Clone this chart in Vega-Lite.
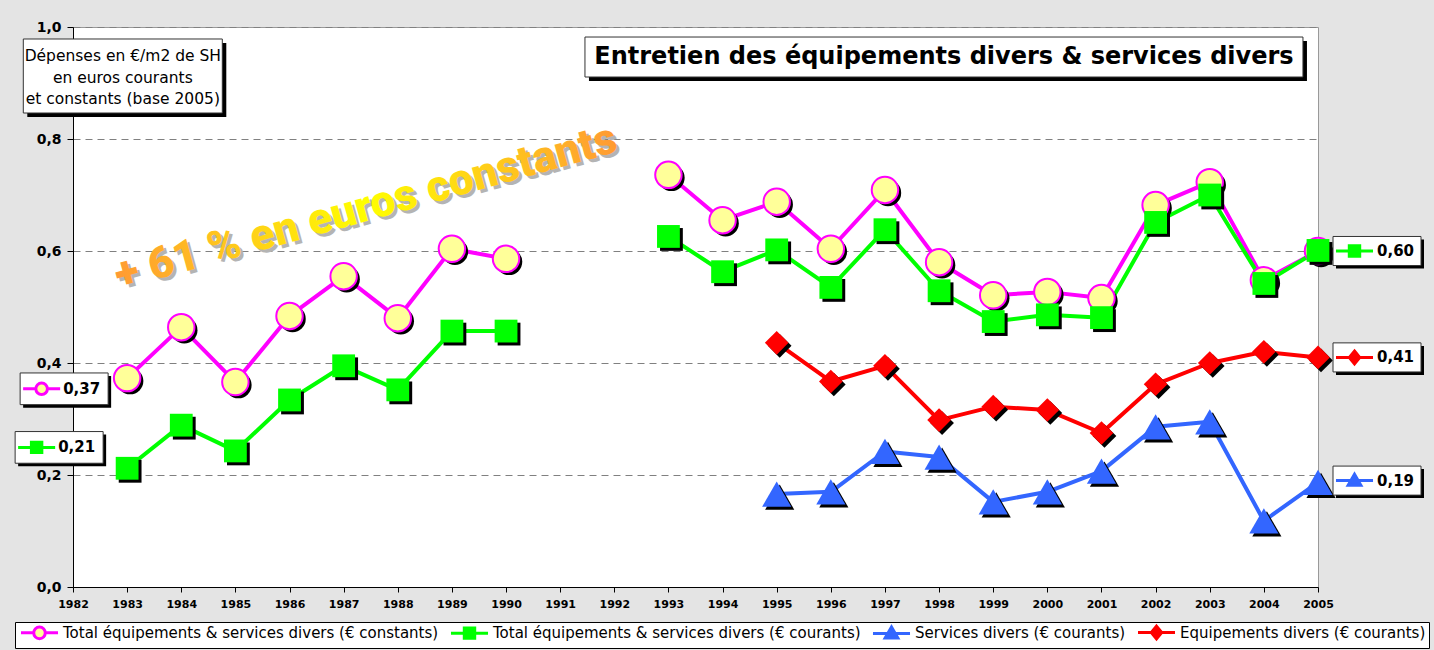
{
  "$schema": "https://vega.github.io/schema/vega-lite/v6.json",
  "width": 1245,
  "height": 560,
  "autosize": {"type": "none"},
  "padding": {"left": 73, "top": 27, "right": 116, "bottom": 63},
  "background": "#e4e4e4",
  "config": {
    "locale": {"number": {"decimal": ",", "thousands": " ", "grouping": [3], "currency": ["", " €"]}},
    "view": {"fill": "white", "stroke": "#999999", "strokeWidth": 1},
    "font": "DejaVu Sans",
    "legend": {
      "orient": "none",
      "direction": "horizontal",
      "columns": 4,
      "labelFontSize": 15,
      "labelFont": "DejaVu Sans",
      "labelColor": "black",
      "labelLimit": 0,
      "symbolSize": 134,
      "symbolStrokeWidth": 3,
      "symbolOpacity": 1,
      "symbolOffset": 14,
      "labelOffset": 16,
      "columnPadding": 5,
      "padding": 3,
      "strokeColor": "black",
      "fillColor": "white",
      "titleFontSize": 0,
      "titlePadding": 0
    }
  },
  "datasets": {
    "d": [
      {"serie": "Total équipements & services divers (€ constants)", "annee": 1983, "valeur": 0.373, "periode": 1},
      {"serie": "Total équipements & services divers (€ constants)", "annee": 1984, "valeur": 0.464, "periode": 1},
      {"serie": "Total équipements & services divers (€ constants)", "annee": 1985, "valeur": 0.366, "periode": 1},
      {"serie": "Total équipements & services divers (€ constants)", "annee": 1986, "valeur": 0.484, "periode": 1},
      {"serie": "Total équipements & services divers (€ constants)", "annee": 1987, "valeur": 0.555, "periode": 1},
      {"serie": "Total équipements & services divers (€ constants)", "annee": 1988, "valeur": 0.48, "periode": 1},
      {"serie": "Total équipements & services divers (€ constants)", "annee": 1989, "valeur": 0.604, "periode": 1},
      {"serie": "Total équipements & services divers (€ constants)", "annee": 1990, "valeur": 0.586, "periode": 1},
      {"serie": "Total équipements & services divers (€ constants)", "annee": 1993, "valeur": 0.736, "periode": 2},
      {"serie": "Total équipements & services divers (€ constants)", "annee": 1994, "valeur": 0.655, "periode": 2},
      {"serie": "Total équipements & services divers (€ constants)", "annee": 1995, "valeur": 0.688, "periode": 2},
      {"serie": "Total équipements & services divers (€ constants)", "annee": 1996, "valeur": 0.604, "periode": 2},
      {"serie": "Total équipements & services divers (€ constants)", "annee": 1997, "valeur": 0.709, "periode": 2},
      {"serie": "Total équipements & services divers (€ constants)", "annee": 1998, "valeur": 0.58, "periode": 2},
      {"serie": "Total équipements & services divers (€ constants)", "annee": 1999, "valeur": 0.521, "periode": 2},
      {"serie": "Total équipements & services divers (€ constants)", "annee": 2000, "valeur": 0.527, "periode": 2},
      {"serie": "Total équipements & services divers (€ constants)", "annee": 2001, "valeur": 0.516, "periode": 2},
      {"serie": "Total équipements & services divers (€ constants)", "annee": 2002, "valeur": 0.682, "periode": 2},
      {"serie": "Total équipements & services divers (€ constants)", "annee": 2003, "valeur": 0.723, "periode": 2},
      {"serie": "Total équipements & services divers (€ constants)", "annee": 2004, "valeur": 0.548, "periode": 2},
      {"serie": "Total équipements & services divers (€ constants)", "annee": 2005, "valeur": 0.6, "periode": 2},
      {"serie": "Total équipements & services divers (€ courants)", "annee": 1983, "valeur": 0.212, "periode": 1},
      {"serie": "Total équipements & services divers (€ courants)", "annee": 1984, "valeur": 0.289, "periode": 1},
      {"serie": "Total équipements & services divers (€ courants)", "annee": 1985, "valeur": 0.243, "periode": 1},
      {"serie": "Total équipements & services divers (€ courants)", "annee": 1986, "valeur": 0.334, "periode": 1},
      {"serie": "Total équipements & services divers (€ courants)", "annee": 1987, "valeur": 0.395, "periode": 1},
      {"serie": "Total équipements & services divers (€ courants)", "annee": 1988, "valeur": 0.352, "periode": 1},
      {"serie": "Total équipements & services divers (€ courants)", "annee": 1989, "valeur": 0.457, "periode": 1},
      {"serie": "Total équipements & services divers (€ courants)", "annee": 1990, "valeur": 0.457, "periode": 1},
      {"serie": "Total équipements & services divers (€ courants)", "annee": 1993, "valeur": 0.626, "periode": 2},
      {"serie": "Total équipements & services divers (€ courants)", "annee": 1994, "valeur": 0.563, "periode": 2},
      {"serie": "Total équipements & services divers (€ courants)", "annee": 1995, "valeur": 0.602, "periode": 2},
      {"serie": "Total équipements & services divers (€ courants)", "annee": 1996, "valeur": 0.535, "periode": 2},
      {"serie": "Total équipements & services divers (€ courants)", "annee": 1997, "valeur": 0.638, "periode": 2},
      {"serie": "Total équipements & services divers (€ courants)", "annee": 1998, "valeur": 0.529, "periode": 2},
      {"serie": "Total équipements & services divers (€ courants)", "annee": 1999, "valeur": 0.474, "periode": 2},
      {"serie": "Total équipements & services divers (€ courants)", "annee": 2000, "valeur": 0.486, "periode": 2},
      {"serie": "Total équipements & services divers (€ courants)", "annee": 2001, "valeur": 0.481, "periode": 2},
      {"serie": "Total équipements & services divers (€ courants)", "annee": 2002, "valeur": 0.651, "periode": 2},
      {"serie": "Total équipements & services divers (€ courants)", "annee": 2003, "valeur": 0.7, "periode": 2},
      {"serie": "Total équipements & services divers (€ courants)", "annee": 2004, "valeur": 0.542, "periode": 2},
      {"serie": "Total équipements & services divers (€ courants)", "annee": 2005, "valeur": 0.601, "periode": 2},
      {"serie": "Services divers (€ courants)", "annee": 1995, "valeur": 0.166, "periode": 2},
      {"serie": "Services divers (€ courants)", "annee": 1996, "valeur": 0.17, "periode": 2},
      {"serie": "Services divers (€ courants)", "annee": 1997, "valeur": 0.242, "periode": 2},
      {"serie": "Services divers (€ courants)", "annee": 1998, "valeur": 0.232, "periode": 2},
      {"serie": "Services divers (€ courants)", "annee": 1999, "valeur": 0.152, "periode": 2},
      {"serie": "Services divers (€ courants)", "annee": 2000, "valeur": 0.17, "periode": 2},
      {"serie": "Services divers (€ courants)", "annee": 2001, "valeur": 0.207, "periode": 2},
      {"serie": "Services divers (€ courants)", "annee": 2002, "valeur": 0.286, "periode": 2},
      {"serie": "Services divers (€ courants)", "annee": 2003, "valeur": 0.295, "periode": 2},
      {"serie": "Services divers (€ courants)", "annee": 2004, "valeur": 0.118, "periode": 2},
      {"serie": "Services divers (€ courants)", "annee": 2005, "valeur": 0.187, "periode": 2},
      {"serie": "Equipements divers (€ courants)", "annee": 1995, "valeur": 0.436, "periode": 2},
      {"serie": "Equipements divers (€ courants)", "annee": 1996, "valeur": 0.367, "periode": 2},
      {"serie": "Equipements divers (€ courants)", "annee": 1997, "valeur": 0.395, "periode": 2},
      {"serie": "Equipements divers (€ courants)", "annee": 1998, "valeur": 0.298, "periode": 2},
      {"serie": "Equipements divers (€ courants)", "annee": 1999, "valeur": 0.322, "periode": 2},
      {"serie": "Equipements divers (€ courants)", "annee": 2000, "valeur": 0.316, "periode": 2},
      {"serie": "Equipements divers (€ courants)", "annee": 2001, "valeur": 0.275, "periode": 2},
      {"serie": "Equipements divers (€ courants)", "annee": 2002, "valeur": 0.362, "periode": 2},
      {"serie": "Equipements divers (€ courants)", "annee": 2003, "valeur": 0.4, "periode": 2},
      {"serie": "Equipements divers (€ courants)", "annee": 2004, "valeur": 0.42, "periode": 2},
      {"serie": "Equipements divers (€ courants)", "annee": 2005, "valeur": 0.41, "periode": 2}
    ],
    "lab": [
      {"serie": "Total équipements & services divers (€ constants)", "annee": 1983, "valeur": 0.37, "texte": "0,37"},
      {"serie": "Total équipements & services divers (€ courants)", "annee": 1983, "valeur": 0.21, "texte": "0,21"},
      {"serie": "Total équipements & services divers (€ courants)", "annee": 2005, "valeur": 0.6, "texte": "0,60"},
      {"serie": "Equipements divers (€ courants)", "annee": 2005, "valeur": 0.41, "texte": "0,41"},
      {"serie": "Services divers (€ courants)", "annee": 2005, "valeur": 0.19, "texte": "0,19"}
    ]
  },
  "layer": [
    {
      "data": {"name": "d"},
      "mark": {"type": "line", "strokeWidth": 4, "strokeJoin": "round"},
      "encoding": {
        "x": {"field": "annee", "type": "quantitative", "title": null,
          "scale": {"domain": [1982, 2005], "nice": false, "zero": false},
          "axis": {"values": [1982,1983,1984,1985,1986,1987,1988,1989,1990,1991,1992,1993,1994,1995,1996,1997,1998,1999,2000,2001,2002,2003,2004,2005],
            "format": "d", "labelFontWeight": "bold", "labelFontSize": 11, "labelColor": "black", "grid": false,
            "domainColor": "black", "tickColor": "black", "tickSize": 5, "labelPadding": 6, "labelFlush": false, "labelOverlap": false}},
        "y": {"field": "valeur", "type": "quantitative", "title": null,
          "scale": {"domain": [0, 1], "nice": false, "zero": true},
          "axis": {"values": [0, 0.2, 0.4, 0.6, 0.8, 1], "format": ".1f", "labelFontWeight": "bold", "labelFontSize": 14,
            "labelColor": "black", "grid": true, "gridColor": "#808080", "gridDash": [7, 5], "domainColor": "black",
            "tickColor": "black", "tickSize": 6, "labelPadding": 6, "labelFlush": false}},
        "stroke": {"field": "serie", "type": "nominal",
          "scale": {"domain": ["Total équipements & services divers (€ constants)", "Total équipements & services divers (€ courants)", "Services divers (€ courants)", "Equipements divers (€ courants)"],
            "range": ["#ff00ff", "#00ff00", "#3366ff", "#ff0000"]},
          "legend": {"orient": "none", "legendX": -58, "legendY": 595, "title": null, "direction": "horizontal", "columns": 4}},
        "detail": {"field": "periode", "type": "nominal"}
      }
    },
    {
      "data": {"name": "d"},
      "transform": [{"filter": {"field": "serie", "equal": "Total équipements & services divers (€ constants)"}}],
      "mark": {"type": "point", "shape": "circle", "size": 700, "filled": true, "fill": "black", "strokeWidth": 0, "opacity": 1, "xOffset": 3, "yOffset": 3},
      "encoding": {"x": {"field": "annee", "type": "quantitative"}, "y": {"field": "valeur", "type": "quantitative"}}
    },
    {
      "data": {"name": "d"},
      "transform": [{"filter": {"field": "serie", "equal": "Total équipements & services divers (€ constants)"}}],
      "mark": {"type": "point", "shape": "circle", "size": 700, "filled": true, "fill": "#ffff99", "stroke": "#ff00ff", "strokeWidth": 2, "opacity": 1},
      "encoding": {"x": {"field": "annee", "type": "quantitative"}, "y": {"field": "valeur", "type": "quantitative"}}
    },
    {
      "data": {"name": "d"},
      "transform": [{"filter": {"field": "serie", "equal": "Total équipements & services divers (€ courants)"}}],
      "mark": {"type": "point", "shape": "square", "size": 520, "filled": true, "fill": "black", "strokeWidth": 0, "opacity": 1, "xOffset": 3, "yOffset": 3},
      "encoding": {"x": {"field": "annee", "type": "quantitative"}, "y": {"field": "valeur", "type": "quantitative"}}
    },
    {
      "data": {"name": "d"},
      "transform": [{"filter": {"field": "serie", "equal": "Total équipements & services divers (€ courants)"}}],
      "mark": {"type": "point", "shape": "square", "size": 520, "filled": true, "fill": "#00ff00", "strokeWidth": 0, "opacity": 1},
      "encoding": {"x": {"field": "annee", "type": "quantitative"}, "y": {"field": "valeur", "type": "quantitative"}}
    },
    {
      "data": {"name": "d"},
      "transform": [{"filter": {"field": "serie", "equal": "Services divers (€ courants)"}}],
      "mark": {"type": "point", "shape": "triangle-up", "size": 850, "filled": true, "fill": "black", "strokeWidth": 0, "opacity": 1, "xOffset": 3, "yOffset": 3},
      "encoding": {"x": {"field": "annee", "type": "quantitative"}, "y": {"field": "valeur", "type": "quantitative"}}
    },
    {
      "data": {"name": "d"},
      "transform": [{"filter": {"field": "serie", "equal": "Services divers (€ courants)"}}],
      "mark": {"type": "point", "shape": "triangle-up", "size": 850, "filled": true, "fill": "#3366ff", "strokeWidth": 0, "opacity": 1},
      "encoding": {"x": {"field": "annee", "type": "quantitative"}, "y": {"field": "valeur", "type": "quantitative"}}
    },
    {
      "data": {"name": "d"},
      "transform": [{"filter": {"field": "serie", "equal": "Equipements divers (€ courants)"}}],
      "mark": {"type": "point", "shape": "diamond", "size": 560, "filled": true, "fill": "black", "strokeWidth": 0, "opacity": 1, "xOffset": 3, "yOffset": 3},
      "encoding": {"x": {"field": "annee", "type": "quantitative"}, "y": {"field": "valeur", "type": "quantitative"}}
    },
    {
      "data": {"name": "d"},
      "transform": [{"filter": {"field": "serie", "equal": "Equipements divers (€ courants)"}}],
      "mark": {"type": "point", "shape": "diamond", "size": 560, "filled": true, "fill": "#ff0000", "strokeWidth": 0, "opacity": 1},
      "encoding": {"x": {"field": "annee", "type": "quantitative"}, "y": {"field": "valeur", "type": "quantitative"}}
    },
    {
      "data": {"name": "lab"},
      "transform": [{"filter": "datum.annee === 2005"}],
      "mark": {"type": "point", "shape": "M-1,-0.33H1V0.33H-1Z", "size": 7744, "filled": true, "fill": "black", "strokeWidth": 0, "opacity": 1, "xOffset": 62, "yOffset": 3},
      "encoding": {"x": {"field": "annee", "type": "quantitative"}, "y": {"field": "valeur", "type": "quantitative"}}
    },
    {
      "data": {"name": "lab"},
      "transform": [{"filter": "datum.annee === 2005"}],
      "mark": {"type": "point", "shape": "M-1,-0.33H1V0.33H-1Z", "size": 7744, "filled": true, "fill": "white", "stroke": "#333333", "strokeWidth": 1, "opacity": 1, "xOffset": 59},
      "encoding": {"x": {"field": "annee", "type": "quantitative"}, "y": {"field": "valeur", "type": "quantitative"}}
    },
    {
      "data": {"name": "lab"},
      "transform": [{"filter": "datum.annee === 2005"}],
      "mark": {"type": "point", "size": 134, "filled": true, "strokeWidth": 3, "opacity": 1, "xOffset": 36.5},
      "encoding": {
        "x": {"field": "annee", "type": "quantitative"},
        "y": {"field": "valeur", "type": "quantitative"},
        "stroke": {"field": "serie", "type": "nominal"},
        "fill": {"field": "serie", "type": "nominal",
          "scale": {"domain": ["Total équipements & services divers (€ constants)", "Total équipements & services divers (€ courants)", "Services divers (€ courants)", "Equipements divers (€ courants)"],
            "range": ["#ffff99", "#00ff00", "#3366ff", "#ff0000"]}},
        "shape": {"field": "serie", "type": "nominal",
          "scale": {"domain": ["Total équipements & services divers (€ constants)", "Total équipements & services divers (€ courants)", "Services divers (€ courants)", "Equipements divers (€ courants)"],
            "range": ["M-3.2,0H-1M1,0H3.2M-1,0A1,1,0,1,1,1,0A1,1,0,1,1,-1,0Z", "M-3.2,0H3.2M-0.9,-0.9H0.9V0.9H-0.9Z", "M-3.2,0H3.2M0,-1.1L1.1,0.8H-1.1Z", "M-3.2,0H3.2M0,-1.1L0.9,0L0,1.1L-0.9,0Z"]}}
      }
    },
    {
      "data": {"name": "lab"},
      "transform": [{"filter": "datum.annee === 2005"}],
      "mark": {"type": "text", "align": "left", "baseline": "middle", "fontWeight": "bold", "fontSize": 15, "font": "DejaVu Sans", "color": "black", "xOffset": 59},
      "encoding": {"x": {"field": "annee", "type": "quantitative"}, "y": {"field": "valeur", "type": "quantitative"}, "text": {"field": "texte"}}
    },
    {
      "data": {"name": "lab"},
      "transform": [{"filter": {"field": "texte", "equal": "0,37"}}],
      "mark": {"type": "point", "shape": "M-1,-0.36H1V0.36H-1Z", "size": 7744, "filled": true, "fill": "black", "strokeWidth": 0, "opacity": 1, "xOffset": -60, "yOffset": 12},
      "encoding": {"x": {"field": "annee", "type": "quantitative"}, "y": {"field": "valeur", "type": "quantitative"}}
    },
    {
      "data": {"name": "lab"},
      "transform": [{"filter": {"field": "texte", "equal": "0,37"}}],
      "mark": {"type": "point", "shape": "M-1,-0.36H1V0.36H-1Z", "size": 7744, "filled": true, "fill": "white", "stroke": "#333333", "strokeWidth": 1, "opacity": 1, "xOffset": -63, "yOffset": 9},
      "encoding": {"x": {"field": "annee", "type": "quantitative"}, "y": {"field": "valeur", "type": "quantitative"}}
    },
    {
      "data": {"name": "lab"},
      "transform": [{"filter": {"field": "texte", "equal": "0,37"}}],
      "mark": {"type": "point", "size": 134, "filled": true, "strokeWidth": 3, "opacity": 1, "xOffset": -85.5, "yOffset": 9},
      "encoding": {
        "x": {"field": "annee", "type": "quantitative"},
        "y": {"field": "valeur", "type": "quantitative"},
        "stroke": {"field": "serie", "type": "nominal"},
        "fill": {"field": "serie", "type": "nominal"},
        "shape": {"field": "serie", "type": "nominal"}
      }
    },
    {
      "data": {"name": "lab"},
      "transform": [{"filter": {"field": "texte", "equal": "0,37"}}],
      "mark": {"type": "text", "align": "left", "baseline": "middle", "fontWeight": "bold", "fontSize": 15, "font": "DejaVu Sans", "color": "black", "xOffset": -64, "yOffset": 9},
      "encoding": {"x": {"field": "annee", "type": "quantitative"}, "y": {"field": "valeur", "type": "quantitative"}, "text": {"field": "texte"}}
    },
    {
      "data": {"name": "lab"},
      "transform": [{"filter": {"field": "texte", "equal": "0,21"}}],
      "mark": {"type": "point", "shape": "M-1,-0.36H1V0.36H-1Z", "size": 7744, "filled": true, "fill": "black", "strokeWidth": 0, "opacity": 1, "xOffset": -65, "yOffset": -19},
      "encoding": {"x": {"field": "annee", "type": "quantitative"}, "y": {"field": "valeur", "type": "quantitative"}}
    },
    {
      "data": {"name": "lab"},
      "transform": [{"filter": {"field": "texte", "equal": "0,21"}}],
      "mark": {"type": "point", "shape": "M-1,-0.36H1V0.36H-1Z", "size": 7744, "filled": true, "fill": "white", "stroke": "#333333", "strokeWidth": 1, "opacity": 1, "xOffset": -68, "yOffset": -22},
      "encoding": {"x": {"field": "annee", "type": "quantitative"}, "y": {"field": "valeur", "type": "quantitative"}}
    },
    {
      "data": {"name": "lab"},
      "transform": [{"filter": {"field": "texte", "equal": "0,21"}}],
      "mark": {"type": "point", "size": 134, "filled": true, "strokeWidth": 3, "opacity": 1, "xOffset": -90.5, "yOffset": -22},
      "encoding": {
        "x": {"field": "annee", "type": "quantitative"},
        "y": {"field": "valeur", "type": "quantitative"},
        "stroke": {"field": "serie", "type": "nominal"},
        "fill": {"field": "serie", "type": "nominal"},
        "shape": {"field": "serie", "type": "nominal"}
      }
    },
    {
      "data": {"name": "lab"},
      "transform": [{"filter": {"field": "texte", "equal": "0,21"}}],
      "mark": {"type": "text", "align": "left", "baseline": "middle", "fontWeight": "bold", "fontSize": 15, "font": "DejaVu Sans", "color": "black", "xOffset": -69, "yOffset": -22},
      "encoding": {"x": {"field": "annee", "type": "quantitative"}, "y": {"field": "valeur", "type": "quantitative"}, "text": {"field": "texte"}}
    },
    {
      "data": {"values": [{}]},
      "mark": {"type": "text", "text": "+ 61 % en euros constants", "angle": -15.5, "align": "center", "baseline": "middle", "font": "Roboto", "fontWeight": 900, "fontSize": 44, "fill": "#b4b4b4", "xOffset": 3, "yOffset": 3},
      "encoding": {"x": {"datum": 1987.41, "type": "quantitative"}, "y": {"datum": 0.677, "type": "quantitative"}}
    },
    {
      "data": {"values": [{}]},
      "mark": {"type": "text", "text": "+ 61 % en euros constants", "angle": -15.5, "align": "center", "baseline": "middle", "font": "Roboto", "fontWeight": 900, "fontSize": 44,
        "fill": {"gradient": "linear", "x1": 0, "y1": 0, "x2": 1, "y2": 0, "stops": [{"offset": 0, "color": "#ff9a33"}, {"offset": 0.5, "color": "#ffff00"}, {"offset": 1, "color": "#ff9a33"}]}},
      "encoding": {"x": {"datum": 1987.41, "type": "quantitative"}, "y": {"datum": 0.677, "type": "quantitative"}}
    },
    {
      "data": {"values": [{}]},
      "mark": {"type": "point", "shape": "M-1,-0.372H1V0.372H-1Z", "size": 39601, "filled": true, "fill": "black", "strokeWidth": 0, "opacity": 1, "xOffset": 4, "yOffset": 4},
      "encoding": {"x": {"datum": 1982.92, "type": "quantitative"}, "y": {"datum": 0.9125, "type": "quantitative"}}
    },
    {
      "data": {"values": [{}]},
      "mark": {"type": "point", "shape": "M-1,-0.372H1V0.372H-1Z", "size": 39601, "filled": true, "fill": "white", "stroke": "#333333", "strokeWidth": 1, "opacity": 1},
      "encoding": {"x": {"datum": 1982.92, "type": "quantitative"}, "y": {"datum": 0.9125, "type": "quantitative"}}
    },
    {
      "data": {"values": [{}]},
      "mark": {"type": "text", "text": ["Dépenses en €/m2 de SH", "en euros courants", "et constants (base 2005)"], "lineHeight": 21.5, "align": "center", "baseline": "middle", "font": "DejaVu Sans", "fontSize": 15.5, "color": "black", "yOffset": -20},
      "encoding": {"x": {"datum": 1982.92, "type": "quantitative"}, "y": {"datum": 0.9125, "type": "quantitative"}}
    },
    {
      "data": {"values": [{}]},
      "mark": {"type": "point", "shape": "M-1,-0.0557H1V0.0557H-1Z", "size": 515524, "filled": true, "fill": "black", "strokeWidth": 0, "opacity": 1, "xOffset": 4, "yOffset": 4},
      "encoding": {"x": {"datum": 1998.09, "type": "quantitative"}, "y": {"datum": 0.9464, "type": "quantitative"}}
    },
    {
      "data": {"values": [{}]},
      "mark": {"type": "point", "shape": "M-1,-0.0557H1V0.0557H-1Z", "size": 515524, "filled": true, "fill": "white", "stroke": "#333333", "strokeWidth": 1, "opacity": 1},
      "encoding": {"x": {"datum": 1998.09, "type": "quantitative"}, "y": {"datum": 0.9464, "type": "quantitative"}}
    },
    {
      "data": {"values": [{}]},
      "mark": {"type": "text", "text": "Entretien des équipements divers & services divers", "align": "center", "baseline": "middle", "font": "DejaVu Sans", "fontWeight": "bold", "fontSize": 24, "color": "black"},
      "encoding": {"x": {"datum": 1998.09, "type": "quantitative"}, "y": {"datum": 0.9464, "type": "quantitative"}}
    }
  ]
}
